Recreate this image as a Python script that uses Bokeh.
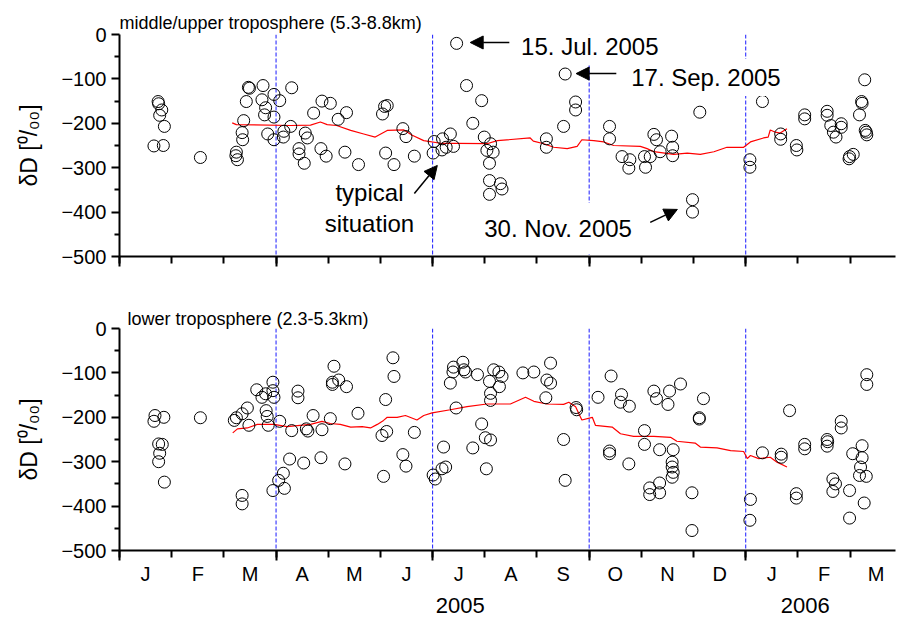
from bokeh.plotting import figure
from bokeh.layouts import column
from bokeh.models import Range1d, FixedTicker, LinearAxis, Span, Label, Arrow, NormalHead
from bokeh.embed import file_html
from bokeh.resources import INLINE

FONT = "Liberation Sans"

# ---------------- data (x = months since 1 Jan 2005) ----------------
month_labels = ["J", "F", "M", "A", "M", "J", "J", "A", "S", "O", "N", "D", "J", "F", "M"]
year_ticks = [6.53, 13.14]
year_labels = ["2005", "2006"]
quarter_bounds = [3, 6, 9, 12]

# middle/upper troposphere (5.3-8.8 km)
t_upper = [0.74, 0.75, 0.81, 0.77, 0.86, 0.66, 0.84, 1.55,
           2.24, 2.23, 2.26, 2.38, 2.35, 2.36, 2.47, 2.49, 2.43, 2.75, 2.73, 2.80, 2.78, 2.96, 3.07, 2.96,
           2.84, 2.96, 3.15, 3.14, 3.30, 3.28,
           3.56, 3.60, 3.44, 3.44, 3.54, 3.72, 3.88, 4.04, 3.86, 3.96,
           4.19, 4.35, 4.32, 4.58,
           5.08, 5.13, 5.04, 5.10, 5.26, 5.43, 5.49, 5.65,
           6.03, 6.01, 6.46, 6.65, 6.94, 6.77, 6.99, 6.19, 6.34, 6.18, 6.40, 6.26, 7.11, 7.04, 7.16, 7.09,
           7.09, 7.30, 7.33, 7.09,
           8.18, 8.18, 8.51, 8.54, 8.74, 8.74,
           9.39, 9.39, 9.63, 9.76, 9.78, 10.06, 10.08, 10.17,
           10.24, 10.29, 10.36, 10.58, 10.60, 10.60, 11.12, 10.98, 10.98,
           12.08, 12.08, 12.32, 12.67, 12.67,
           12.97, 12.98, 13.13, 13.13, 13.56, 13.56, 13.63, 13.68, 13.73, 13.83, 13.83, 13.99, 14.06, 13.98,
           14.28, 14.22, 14.23, 14.18, 14.29, 14.31, 14.32]
d_upper = [-151, -156, -170, -182, -207, -251, -250, -277,
           -265, -273, -282, -194, -221, -237, -119, -121, -151, -115, -147, -165, -181, -135, -149, -186,
           -224, -237, -218, -231, -120, -207,
           -222, -233, -257, -269, -290, -177, -150, -155, -257, -274,
           -191, -176, -265, -293,
           -162, -160, -179, -267, -293, -212, -230, -274,
           -241, -267, -20, -115, -149, -200, -231, -235, -224, -260, -252, -254, -246, -261, -265, -290,
           -329, -336, -348, -360,
           -235, -254, -207, -89, -152, -170,
           -207, -235, -275, -301, -282, -275, -299, -275,
           -225, -237, -264, -229, -254, -273, -175, -372, -400,
           -282, -299, -151, -224, -236,
           -250, -260, -181, -190, -173, -182, -205, -220, -231, -201, -209, -275, -270, -280,
           -102, -151, -155, -181, -216, -220, -226]

t_upper_mean = [2.16, 2.24, 3.28, 3.66, 3.85, 3.98, 4.16, 4.43, 4.68, 4.90, 5.13, 5.45, 5.61, 5.83,
                6.15, 6.47, 7.04, 7.24, 7.87, 7.93, 8.13, 8.32, 8.58, 8.77, 8.86, 9.09, 9.28, 9.47,
                9.98, 10.11, 10.24, 10.62, 10.88, 11.13, 11.39, 11.64, 11.96, 12.09, 12.34, 12.43,
                12.47, 12.57, 12.66, 12.79]
d_upper_mean = [-199, -203, -205, -204, -197, -203, -205, -216, -224, -231, -216, -215, -227, -239,
                -245, -245, -246, -239, -233, -240, -246, -254, -257, -252, -237, -239, -242, -250,
                -252, -257, -264, -270, -267, -270, -264, -254, -254, -242, -233, -231,
                -215, -220, -222, -212]

# lower troposphere (2.3-5.3 km)
t_lower = [0.68, 0.66, 0.85, 0.75, 0.82, 0.77, 0.75, 0.86, 1.55,
           2.24, 2.20, 2.35, 2.45, 2.48, 2.63, 2.73, 2.80, 2.81, 2.83, 2.85, 2.94, 2.94, 2.96, 3.07, 3.30,
           2.35, 2.35, 2.94, 3.05, 3.14, 3.16, 3.26,
           3.42, 3.42, 3.71, 3.58, 3.61, 3.88, 4.04, 4.11, 4.08, 4.20, 4.08, 4.35, 4.57, 3.53, 3.86, 4.32,
           5.24, 5.26, 5.10, 5.03, 5.12, 5.65, 5.06, 5.43, 5.49, 6.01, 6.05,
           6.21, 6.18, 6.25, 6.34, 6.39, 6.40, 6.45, 6.58, 6.63, 6.60, 6.86, 6.94, 6.77, 7.01, 7.11, 7.03,
           7.09, 7.17, 7.27, 7.33, 7.28, 7.11, 7.11,
           7.73, 7.94, 8.26, 8.19, 8.26, 8.17, 8.51, 8.54, 8.75, 8.76,
           9.17, 9.42, 9.39, 9.39, 9.62, 9.60, 9.77, 9.76, 10.06, 10.06,
           10.24, 10.29, 10.35, 10.16, 10.16, 10.35, 10.35, 10.54, 10.51, 10.75, 10.61, 10.59, 10.59, 10.59,
           10.61, 11.19, 11.11, 11.11, 10.97, 10.97,
           12.09, 12.08, 12.32, 12.68, 12.68, 12.84, 12.97, 12.97, 13.13, 13.13,
           13.56, 13.56, 13.57, 13.83, 13.83, 13.67, 13.72, 13.67, 13.99, 13.99, 14.05, 14.23, 14.23, 14.20,
           14.18, 14.31, 14.27, 14.32, 14.32]
d_lower = [-196, -209, -200, -260, -261, -281, -300, -346, -201,
           -201, -207, -192, -179, -218, -138, -155, -147, -185, -198, -218, -121, -140, -155, -209, -230,
           -376, -395, -365, -342, -326, -360, -294,
           -141, -156, -196, -226, -231, -228, -203, -85, -121, -116, -126, -131, -191, -303, -291, -305,
           -66, -108, -160, -241, -232, -234, -333, -284, -310, -330, -339,
           -267, -316, -312, -123, -98, -87, -179, -76, -98, -93, -104, -215, -269, -246, -251, -316,
           -119, -93, -98, -108, -131, -146, -162,
           -100, -98, -78, -116, -123, -156, -250, -342, -178, -183,
           -155, -107, -276, -282, -149, -166, -175, -305, -230, -261,
           -141, -158, -273, -359, -374, -348, -370, -141, -171, -125, -273, -301, -312, -335,
           -324, -158, -201, -204, -370, -455,
           -385, -432, -280, -290, -283, -185, -372, -382, -261, -271,
           -250, -265, -255, -209, -224, -339, -350, -367, -365, -427, -282, -264, -291, -312,
           -331, -333, -393, -104, -126]

t_lower_mean = [2.17, 2.26, 2.45, 2.64, 2.96, 3.21, 3.66, 3.88, 4.04, 4.23, 4.43, 4.65, 4.81, 4.94,
                5.06, 5.13, 5.32, 5.48, 5.70, 5.83, 5.99, 6.34, 6.66, 7.04, 7.49, 7.78, 7.94, 8.19,
                8.51, 8.61, 8.74, 8.86, 9.06, 9.12, 9.44, 9.60, 9.85, 10.24, 10.56, 10.68, 11.03,
                11.13, 11.45, 11.71, 11.96, 12.03, 12.09, 12.25, 12.47, 12.60, 12.79]
d_lower_mean = [-235, -226, -224, -216, -216, -221, -216, -209, -214, -216, -222, -221, -224, -216,
                -207, -200, -200, -196, -206, -196, -190, -183, -176, -170, -170, -155, -164, -170,
                -171, -166, -176, -206, -200, -218, -222, -237, -243, -243, -245, -254, -258,
                -267, -269, -275, -277, -293, -286, -293, -290, -301, -312]

# ---------------- layout constants ----------------
W = 899
LEFT = 119
RIGHT = 4
X_END = 14.87
Y_TICKS = list(range(-500, 1, 100))
Y_MINOR = list(range(-450, 0, 100))


def make_panel(height, border_top, border_bottom, title, title_offset, title_standoff):
    p = figure(width=W, height=height, x_range=Range1d(0, X_END), y_range=Range1d(-500, 0),
               output_backend="svg", toolbar_location=None,
               min_border_left=LEFT, min_border_right=RIGHT,
               min_border_top=border_top, min_border_bottom=border_bottom)
    p.outline_line_color = None
    p.xgrid.visible = False
    p.ygrid.visible = False
    p.background_fill_color = "white"

    p.title.text = title
    p.title.align = "left"
    p.title.offset = title_offset
    p.title.standoff = title_standoff
    p.title.text_font = FONT
    p.title.text_font_size = "18px"
    p.title.text_font_style = "normal"
    p.title.text_color = "black"

    ya = p.yaxis[0]
    ya.ticker = FixedTicker(ticks=Y_TICKS, minor_ticks=Y_MINOR)
    ya.axis_line_width = 2
    ya.major_tick_line_width = 2
    ya.minor_tick_line_width = 2
    ya.major_tick_out = 8
    ya.major_tick_in = 0
    ya.minor_tick_out = 5
    ya.minor_tick_in = 0
    ya.major_label_text_font = FONT
    ya.major_label_text_font_size = "20px"
    ya.major_label_text_color = "black"
    ya.major_label_standoff = 5
    ya.axis_label = "\u03b4D [\u2070/\u2080\u2080]"
    ya.axis_label_text_font = FONT
    ya.axis_label_text_font_size = "23px"
    ya.axis_label_text_font_style = "normal"
    ya.axis_label_text_color = "black"
    ya.axis_label_standoff = 16

    xa = p.xaxis[0]
    xa.ticker = FixedTicker(ticks=[0] + quarter_bounds, minor_ticks=list(range(0, 15)))
    xa.axis_line_width = 2
    xa.major_tick_line_width = 2
    xa.minor_tick_line_width = 2
    xa.major_tick_out = 10
    xa.major_tick_in = 0
    xa.minor_tick_out = 7
    xa.minor_tick_in = 0
    xa.major_label_overrides = {v: "" for v in [0] + quarter_bounds}
    xa.major_label_text_font_size = "1px"
    xa.major_label_standoff = 0

    for q in quarter_bounds:
        s = Span(location=q, dimension="height", line_color="#1a1aff", line_width=1,
                 line_dash="4 2", level="underlay")
        p.add_layout(s)
    return p


def add_series(p, t, d, tm, dm):
    p.line(tm, dm, line_color="#ff0000", line_width=1.2)
    p.scatter(t, d, marker="circle", size=12, fill_color=None, line_color="black", line_width=1)


def text(p, x, y, s, size="24px", align="left", pad=0, bg=None):
    lab = Label(x=x, y=y, text=s, text_font=FONT, text_font_size=size, text_color="black",
                text_align=align, text_baseline="alphabetic")
    if bg:
        lab.background_fill_color = bg
        lab.background_fill_alpha = 1.0
        lab.padding = pad
    p.add_layout(lab)


def arrow(p, x0, y0, x1, y1):
    p.add_layout(Arrow(end=NormalHead(size=13, fill_color="black", line_color="black"),
                       x_start=x0, y_start=y0, x_end=x1, y_end=y1,
                       line_color="black", line_width=1.5))


# ---------------- top panel ----------------
top = make_panel(280, 34, 24, "middle/upper troposphere (5.3-8.8km)", 0, 4)
add_series(top, t_upper, d_upper, t_upper_mean, d_upper_mean)
text(top, 7.60, -28, "15. Jul. 2005", pad=5, bg="white")
arrow(top, 7.47, -18, 6.72, -18)
text(top, 9.71, -97, "17. Sep. 2005", pad=5, bg="white")
arrow(top, 9.52, -88, 8.75, -88)
text(top, 6.76, -437, "30. Nov. 2005", pad=12, bg="white")
arrow(top, 10.17, -423, 10.69, -394)
text(top, 4.79, -356, "typical", align="center")
text(top, 4.79, -425, "situation", align="center")
arrow(top, 5.65, -358, 6.09, -295)

# ---------------- bottom panel ----------------
bot = make_panel(339, 48, 69, "lower troposphere (2.3-5.3km)", 8, 0)
add_series(bot, t_lower, d_lower, t_lower_mean, d_lower_mean)

mid = [i + 0.5 for i in range(len(month_labels))]
month_axis = LinearAxis(ticker=FixedTicker(ticks=mid),
                        major_label_overrides={m: lab for m, lab in zip(mid, month_labels)},
                        axis_line_color=None, major_tick_line_color=None, minor_tick_line_color=None,
                        major_tick_out=0, major_tick_in=0, minor_tick_out=0, minor_tick_in=0,
                        major_label_text_font=FONT, major_label_text_font_size="20px",
                        major_label_text_color="black", major_label_standoff=2)
bot.add_layout(month_axis, "below")
year_axis = LinearAxis(ticker=FixedTicker(ticks=year_ticks),
                       major_label_overrides={y: lab for y, lab in zip(year_ticks, year_labels)},
                       axis_line_color=None, major_tick_line_color=None, minor_tick_line_color=None,
                       major_tick_out=0, major_tick_in=0, minor_tick_out=0, minor_tick_in=0,
                       major_label_text_font=FONT, major_label_text_font_size="22px",
                       major_label_text_color="black", major_label_standoff=10)
bot.add_layout(year_axis, "below")

layout = column(top, bot)
open("out.html", "w").write(file_html(layout, INLINE))
